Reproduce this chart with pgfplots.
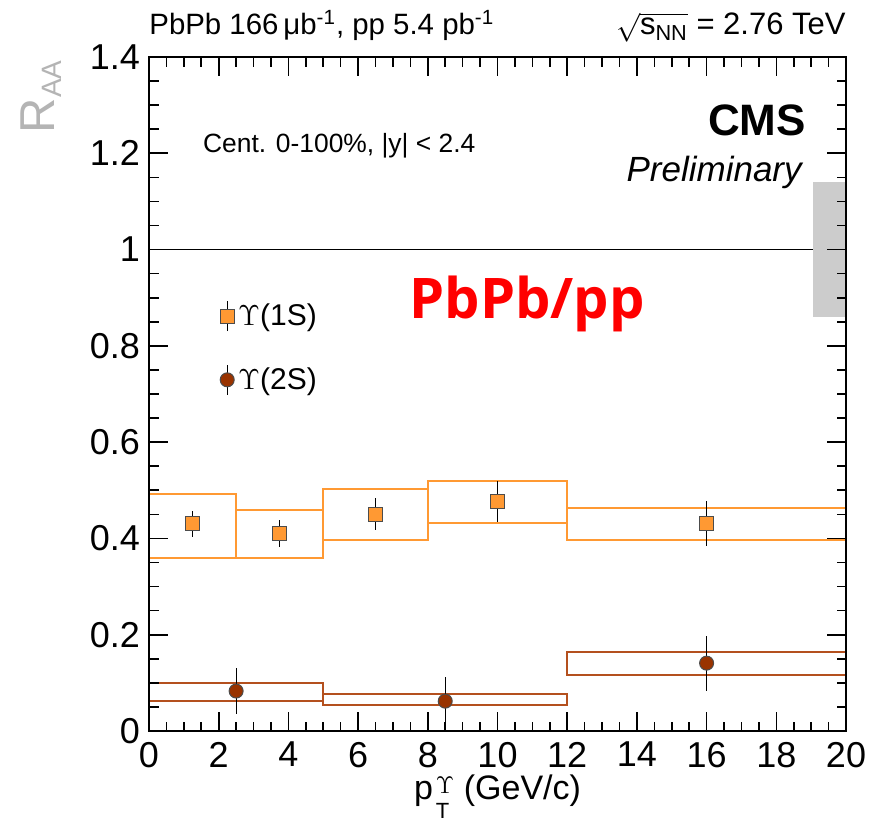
\documentclass[border=0pt]{standalone}
\usepackage{fontspec}
\setmainfont{Liberation Sans}
\newfontfamily\opensans{Open Sans}
\usepackage{pgfplots}
\pgfplotsset{compat=1.18}
\definecolor{ups1}{RGB}{255,153,51}
\definecolor{ups2}{RGB}{153,51,0}
\definecolor{box2}{RGB}{180,80,30}
\definecolor{raagray}{RGB}{180,180,180}
\definecolor{bandgray}{RGB}{204,204,204}
\pgfplotsset{upslegend/.style={legend image code/.code={
  \draw[black,line width=0.6pt] (0pt,-7.5pt) -- (0pt,7.5pt);
  \draw[mark repeat=2,mark phase=2,every mark/.append style={draw=none}] plot coordinates {(-1pt,0pt)(0pt,0pt)(1pt,0pt)};
}}}
\begin{document}
\begin{tikzpicture}
\begin{axis}[
  name=ax,
  scale only axis, width=348.5pt, height=337pt,
  xmin=0, xmax=20, ymin=0, ymax=1.4,
  xtick={0,2,4,6,8,10,12,14,16,18,20},
  ytick={0,0.2,0.4,0.6,0.8,1,1.2,1.4},
  minor x tick num=3, minor y tick num=3,
  tick align=inside, major tick length=9.5pt, minor tick length=4.75pt,
  every tick/.style={black, line width=0.8pt},
  axis line style={line width=1.2pt},
  axis on top,
  /pgf/number format/assume math mode=true,
  /pgf/number format/fixed, /pgf/number format/precision=1,
  ticklabel style={font=\fontsize{18}{18}\selectfont},
  xticklabel style={yshift=-2pt},
  yticklabel style={xshift=-1pt},
  xlabel={p\kern1.5pt\rlap{\raisebox{3pt}{\fontsize{12}{12}\selectfont$\Upsilon$}}\raisebox{-9.5pt}{\fontsize{11}{11}\selectfont T}\kern2.5pt\ (GeV/c)},
  xlabel style={font=\fontsize{17}{17}\selectfont, at={([yshift=-34pt]rel axis cs:0.5,0)}, anchor=base},
  ylabel={R\raisebox{-3.5pt}{\fontsize{14}{14}\selectfont AA}},
  ylabel style={font=\fontsize{24.5}{24.5}\selectfont, color=raagray, inner sep=0pt, at={([xshift=-43.5pt,yshift=-1.5pt]rel axis cs:0,1)}, anchor=south east, rotate=0},
  legend style={draw=none, fill=none, at={(axis cs:1.86,0.905)}, anchor=north west,
    font=\fontsize{15}{15}\selectfont, row sep=15.5pt,
    nodes={inner xsep=2pt}},
  legend cell align=left,
]
% reference line and normalisation band
\addplot[black, line width=0.6pt, forget plot] coordinates {(0,1) (20,1)};
\addplot[fill=bandgray, draw=none, forget plot] coordinates {(19.05,0.86) (20,0.86) (20,1.14) (19.05,1.14)} -- cycle;
% Upsilon(1S) systematic boxes
\addplot[ups1, line width=1pt, forget plot] coordinates {(0,0.360) (2.5,0.360) (2.5,0.493) (0,0.493)} -- cycle;
\addplot[ups1, line width=1pt, forget plot] coordinates {(2.5,0.360) (5,0.360) (5,0.460) (2.5,0.460)} -- cycle;
\addplot[ups1, line width=1pt, forget plot] coordinates {(5,0.397) (8,0.397) (8,0.502) (5,0.502)} -- cycle;
\addplot[ups1, line width=1pt, forget plot] coordinates {(8,0.433) (12,0.433) (12,0.520) (8,0.520)} -- cycle;
\addplot[ups1, line width=1pt, forget plot] coordinates {(12,0.396) (20,0.396) (20,0.464) (12,0.464)} -- cycle;
% Upsilon(2S) systematic boxes
\addplot[box2, line width=1pt, forget plot] coordinates {(0,0.063) (5,0.063) (5,0.100) (0,0.100)} -- cycle;
\addplot[box2, line width=1pt, forget plot] coordinates {(5,0.054) (12,0.054) (12,0.077) (5,0.077)} -- cycle;
\addplot[box2, line width=1pt, forget plot] coordinates {(12,0.117) (20,0.117) (20,0.165) (12,0.165)} -- cycle;
% data points
\addplot[upslegend, only marks, mark=square*, mark size=3.5pt, mark options={fill=ups1, draw=black!70, line width=0.5pt},
  error bars/.cd, y dir=both, y explicit, error mark=none, error bar style={black, line width=0.6pt}]
  coordinates {(1.25,0.430) +- (0,0.028) (3.75,0.410) +- (0,0.028) (6.5,0.450) +- (0,0.033) (10,0.477) +- (0,0.043) (16,0.431) +- (0,0.047)};
\addlegendentry{$\Upsilon$(1S)}
\addplot[upslegend, only marks, mark=*, mark size=3.5pt, mark options={fill=ups2, draw=black!70, line width=0.5pt},
  error bars/.cd, y dir=both, y explicit, error mark=none, error bar style={black, line width=0.6pt}]
  coordinates {(2.5,0.083) +- (0,0.047) (8.5,0.062) +- (0,0.050) (16,0.141) +- (0,0.057)};
\addlegendentry{$\Upsilon$(2S)}
% texts
\node[anchor=west, font=\fontsize{13.2}{13.2}\selectfont] at (axis cs:1.35,1.215) {Cent. 0-100\%, |y| < 2.4};
\node[anchor=east, font=\fontsize{22}{22}\selectfont\bfseries] at (axis cs:19.05,1.268) {CMS};
\node[anchor=east, font=\fontsize{17.5}{17.5}\selectfont\itshape] at (axis cs:18.93,1.16) {Preliminary};
\node[anchor=base, text=red, font=\fontsize{28}{28}\selectfont\opensans\bfseries] at (axis cs:10.85,0.857) {PbPb/pp};
\end{axis}
\node[anchor=base west, inner xsep=0pt, font=\fontsize{14.7}{14.7}\selectfont] at ([yshift=11pt]ax.north west) {PbPb 166\,μb\textsuperscript{-1}, pp 5.4 pb\textsuperscript{-1}};
\node[anchor=base east, inner xsep=0pt, font=\fontsize{15.5}{15.5}\selectfont] at ([yshift=11pt]ax.north east) {$\sqrt{\mbox{s\textsubscript{NN}}}$ = 2.76 TeV};
\pgfresetboundingbox
\path ([xshift=-74.5pt,yshift=-47.5pt]ax.south west) rectangle ([xshift=12pt,yshift=28.5pt]ax.north east);
\end{tikzpicture}
\end{document}
